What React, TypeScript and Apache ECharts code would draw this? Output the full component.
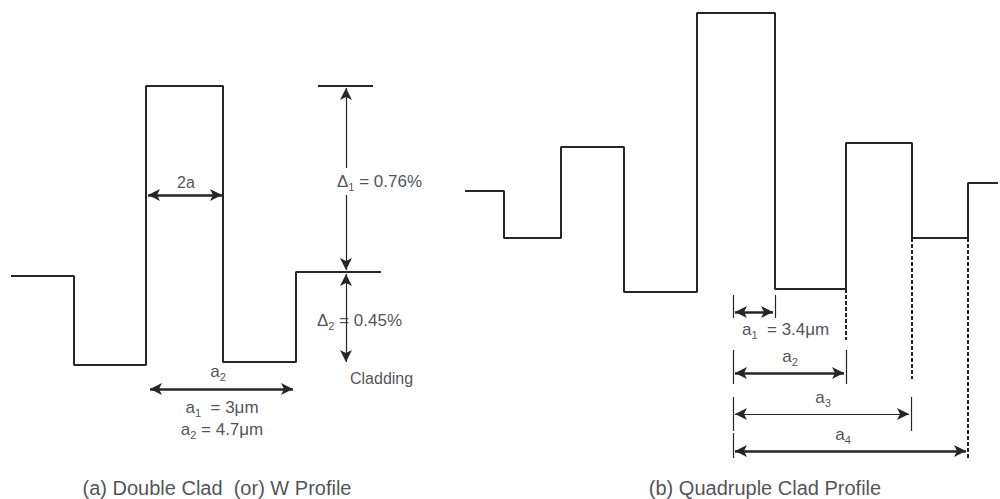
import React, { useEffect, useRef } from "react";
import * as echarts from "echarts";

// Profile (a): step edges (radial positions) and index levels between them
const profileAEdges = [11, 74, 146, 223, 296, 381];
const profileALevels = [276, 365, 86, 362, 272];
// Profile (b)
const profileBEdges = [465, 504, 561, 624, 697, 775, 846, 912, 968, 998];
const profileBLevels = [191, 238, 147, 292, 13, 289, 143, 238, 183];

// Dimension arrows: [x1, y1, x2, y2]
const thickArrows = [
  [148, 195, 222, 195],
  [150, 389, 293, 389],
  [735, 312, 773, 312],
  [735, 373, 844, 373],
  [735, 451, 966, 451],
];
const thinArrows = [
  [735, 414, 909, 414],
  [346, 274, 346, 362],
];
const halfArrows = [
  [346, 168, 346, 88],
  [346, 195, 346, 270],
];
// Reference lines
const solidRefs = [
  [318, 86, 373, 86],
  [296, 272, 381, 272],
];
const ticks = [
  [733, 295, 733, 318],
  [775, 295, 775, 318],
  [733, 350, 733, 384],
  [846, 350, 846, 384],
  [733, 397, 733, 431],
  [911, 397, 911, 431],
  [733, 433, 733, 458],
];
const dashedRefs = [
  [846, 289, 846, 340],
  [912, 238, 912, 379],
  [968, 238, 968, 458],
];

// Text labels ({s|..} marks a subscript)
const labelTexts = [
  "2a",
  "Δ{s|1} = 0.76%",
  "Δ{s|2} = 0.45%",
  "Cladding",
  "a{s|2}",
  "a{s|1}  = 3μm",
  "a{s|2} = 4.7μm",
  "a{s|1}  = 3.4μm",
  "a{s|2}",
  "a{s|3}",
  "a{s|4}",
  "(a) Double Clad  (or) W Profile",
  "(b) Quadruple Clad Profile",
];
const labelX = [186, 337, 317, 350, 218, 222, 222, 742, 790, 823, 843, 217, 765];
const labelY = [182, 181, 320, 378, 371, 407, 429, 329, 356, 397, 434, 488, 488];
const labelAnchor = ["center", "left", "left", "left", "center", "center", "center", "left", "center", "center", "center", "center", "center"];

function stepPoints(edges: number[], levels: number[]) {
  const pts: number[][] = [];
  for (let i = 0; i < levels.length; i++) {
    pts.push([edges[i], levels[i]], [edges[i + 1], levels[i]]);
  }
  return pts;
}

function segs(list: number[][], s1: string, s2: string) {
  return list.map((s) => [
    { coord: [s[0], s[1]], symbol: s1 },
    { coord: [s[2], s[3]], symbol: s2 },
  ]);
}

const INK = "#262626";
const TEXT = "#23232b";
const FONT = "'Liberation Sans', Arial, sans-serif";

function markSeries(data: any[], width: number, type: any, symSize: any) {
  return {
    type: "scatter",
    data: [],
    silent: true,
    markLine: {
      silent: true,
      animation: false,
      symbolSize: symSize,
      label: { show: false },
      emphasis: { disabled: true },
      lineStyle: { color: INK, width, type, opacity: 1 },
      data,
    },
  };
}

export default function App() {
  const ref = useRef<HTMLDivElement>(null);
  useEffect(() => {
    if (!ref.current) return;
    const chart = echarts.init(ref.current, undefined, { renderer: "svg" });
    const labels = labelTexts.map((t, i) => {
      const caption = i >= 11;
      const fs = caption ? 20 : i === 0 || i === 3 ? 16 : 17;
      return {
        value: [labelX[i], labelY[i]],
        name: t,
        label: {
          align: labelAnchor[i],
          fontSize: fs,
          lineHeight: 22,
          rich: {
            s: {
              fontSize: 11,
              lineHeight: 22,
              verticalAlign: "bottom",
              color: TEXT,
              fontFamily: FONT,
            },
          },
        },
      };
    });
    chart.setOption({
      animation: false,
      grid: { left: 0, right: 0, top: 0, bottom: 0 },
      xAxis: { type: "value", min: 0, max: 1000, show: false },
      yAxis: { type: "value", min: 0, max: 499, inverse: true, show: false },
      series: [
        {
          type: "line",
          data: stepPoints(profileAEdges, profileALevels),
          showSymbol: false,
          silent: true,
          lineStyle: { color: INK, width: 2 },
        },
        {
          type: "line",
          data: stepPoints(profileBEdges, profileBLevels),
          showSymbol: false,
          silent: true,
          lineStyle: { color: INK, width: 2 },
        },
        markSeries(segs(thickArrows, "arrow", "arrow"), 2.5, "solid", [9, 12]),
        markSeries(segs(thinArrows, "arrow", "arrow"), 1.2, "solid", [9, 12]),
        markSeries(segs(halfArrows, "none", "arrow"), 1.2, "solid", [9, 12]),
        markSeries(segs(solidRefs, "none", "none"), 2, "solid", 0),
        markSeries(segs(ticks, "none", "none"), 1.2, "solid", 0),
        markSeries(segs(dashedRefs, "none", "none"), 2, [4, 2], 0),
        {
          type: "scatter",
          data: labels,
          symbolSize: 1,
          silent: true,
          itemStyle: { color: "rgba(0,0,0,0)" },
          label: {
            show: true,
            position: "inside",
            formatter: "{b}",
            color: TEXT,
            fontFamily: FONT,
            verticalAlign: "middle",
          },
        },
      ],
    });
    return () => chart.dispose();
  }, []);
  return (
    <div
      ref={ref}
      style={{ position: "fixed", left: 0, top: 0, width: 1000, height: 499, background: "#fff" }}
    />
  );
}
